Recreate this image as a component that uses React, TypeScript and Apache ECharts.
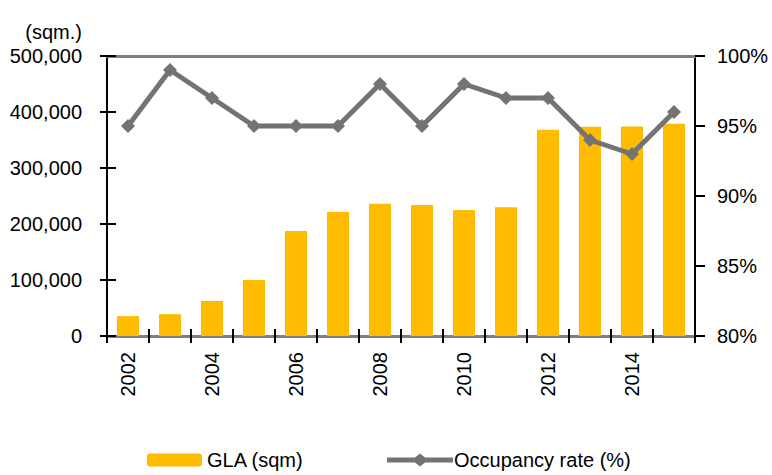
import React, { useEffect, useRef } from "react";
import * as echarts from "echarts";

const years = ["2002", "2003", "2004", "2005", "2006", "2007", "2008", "2009", "2010", "2011", "2012", "2013", "2014", "2015"];
const glaValues = [35500, 39000, 62500, 100000, 187500, 221500, 236000, 234000, 225000, 230000, 368500, 373500, 374000, 379000];
const occupancyValues = [95, 99, 97, 95, 95, 95, 98, 95, 98, 97, 97, 94, 93, 96];
const leftTicks = { min: 0, max: 500000, interval: 100000 };
const rightTicks = { min: 80, max: 100, interval: 5 };

const FONT = "'Liberation Sans', Arial, sans-serif";
const fmtThousands = (v: number) => String(v).replace(/\B(?=(\d{3})+(?!\d))/g, ",");

export default function App() {
  const ref = useRef<HTMLDivElement>(null);
  useEffect(() => {
    if (!ref.current) return;
    const chart = echarts.init(ref.current, undefined, { renderer: "svg" });
    const label = { fontFamily: FONT, fontSize: 20, color: "#000" };
    chart.setOption({
      animation: false,
      grid: { left: 107, right: 77, top: 56, bottom: 139 },
      legend: [
        {
          data: ["GLA (sqm)"],
          left: 147,
          top: 450,
          padding: 0,
          itemWidth: 55,
          itemHeight: 13,
          textStyle: label,
        },
        {
          data: [{ name: "Occupancy rate (%)", icon: "path://M0,4 L28,4 L33,0 L38,4 L66,4 L66,9 L38,9 L33,13 L28,9 L0,9 Z" }],
          left: 387,
          top: 450,
          padding: 0,
          itemWidth: 66,
          itemHeight: 13,
          textStyle: { ...label, padding: [0, 0, 0, -4] },
        },
      ],
      xAxis: [
        {
          type: "category",
          data: years,
          position: "bottom",
          axisLine: { lineStyle: { color: "#808080", width: 3 } },
          axisTick: { show: true, interval: 0, length: 7, lineStyle: { color: "#000", width: 2 } },
          axisLabel: { ...label, rotate: 90, interval: 1, margin: 16 },
        },
        {
          type: "category",
          data: years,
          position: "bottom",
          axisLine: { show: false },
          axisTick: { show: true, inside: true, interval: 0, length: 7, lineStyle: { color: "#000", width: 2 } },
          axisLabel: { show: false },
        },
        {
          type: "category",
          data: years,
          position: "top",
          axisLine: { lineStyle: { color: "#808080", width: 3 } },
          axisTick: { show: false },
          axisLabel: { show: false },
        },
      ],
      yAxis: [
        {
          type: "value",
          ...leftTicks,
          position: "left",
          name: "(sqm.)",
          nameLocation: "end",
          nameGap: 14,
          nameTextStyle: { ...label, align: "right", padding: [0, 25, 0, 0] },
          splitLine: { show: false },
          axisLine: { show: true, lineStyle: { color: "#000", width: 2 } },
          axisTick: { show: true, length: 7, lineStyle: { color: "#000", width: 2 } },
          axisLabel: { ...label, margin: 25, formatter: (v: number) => fmtThousands(v) },
        },
        {
          type: "value",
          ...rightTicks,
          position: "right",
          splitLine: { show: false },
          axisLine: { show: true, lineStyle: { color: "#000", width: 2 } },
          axisTick: { show: true, length: 10, lineStyle: { color: "#000", width: 2 } },
          axisLabel: { ...label, margin: 22, formatter: (v: number) => `${v}%` },
        },
        {
          type: "value",
          ...leftTicks,
          position: "left",
          splitLine: { show: false },
          axisLine: { show: false },
          axisTick: { show: true, inside: true, length: 9, lineStyle: { color: "#000", width: 2 } },
          axisLabel: { show: false },
        },
      ],
      series: [
        {
          name: "GLA (sqm)",
          type: "bar",
          data: glaValues,
          xAxisIndex: 0,
          yAxisIndex: 0,
          barWidth: 22,
          itemStyle: { color: "#FFBB00" },
        },
        {
          name: "Occupancy rate (%)",
          type: "line",
          data: occupancyValues,
          xAxisIndex: 0,
          yAxisIndex: 1,
          symbol: "diamond",
          symbolSize: 14,
          lineStyle: { color: "#737373", width: 5 },
          itemStyle: { color: "#737373" },
        },
      ],
    });
    return () => chart.dispose();
  }, []);
  return <div ref={ref} style={{ width: 772, height: 475, position: "absolute", left: 0, top: 0 }} />;
}
